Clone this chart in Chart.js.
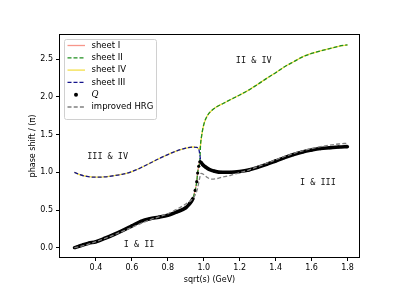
<!DOCTYPE html>
<html>
<head>
<meta charset="utf-8">
<script src="https://cdn.jsdelivr.net/npm/chart.js@4.4.1/dist/chart.umd.min.js"></script>
<style>
  html, body { margin: 0; padding: 0; background: #fff; }
  #wrap { width: 410px; height: 290px; }
</style>
</head>
<body>
<div id="wrap"><canvas id="phaseChart" width="410" height="290"></canvas></div>
<script>
// lower branch below threshold (I & II), also the Q points
const lowLeftX = [0.28, 0.30, 0.33, 0.36, 0.40, 0.45, 0.50, 0.55, 0.60, 0.65, 0.70, 0.75, 0.80, 0.85, 0.90, 0.92, 0.94, 0.952, 0.961, 0.966, 0.972, 0.978];
const lowLeftY = [0.00, 0.015, 0.04, 0.06, 0.08, 0.125, 0.175, 0.23, 0.29, 0.35, 0.385, 0.405, 0.43, 0.475, 0.53, 0.58, 0.655, 0.76, 0.875, 0.99, 1.08, 1.14];

// lower branch above threshold (I & III)
const lowRightX = [0.985, 0.995, 1.01, 1.03, 1.06, 1.10, 1.15, 1.20, 1.25, 1.30, 1.35, 1.40, 1.45, 1.50, 1.55, 1.60, 1.65, 1.70, 1.75, 1.80];
const lowRightY = [1.13, 1.10, 1.07, 1.04, 1.015, 1.0, 1.0, 1.01, 1.03, 1.065, 1.105, 1.15, 1.195, 1.235, 1.27, 1.295, 1.315, 1.325, 1.335, 1.34];

// upper branch below threshold (III & IV)
const upLeftX = [0.28, 0.31, 0.35, 0.40, 0.45, 0.50, 0.55, 0.60, 0.65, 0.70, 0.75, 0.80, 0.85, 0.90, 0.94, 0.96, 0.972];
const upLeftY = [1.00, 0.97, 0.945, 0.935, 0.94, 0.955, 0.975, 1.01, 1.06, 1.12, 1.18, 1.235, 1.285, 1.32, 1.335, 1.33, 1.31];

// upper branch above threshold (II & IV)
const upRightX = [0.982, 0.988, 0.995, 1.005, 1.02, 1.04, 1.07, 1.11, 1.15, 1.20, 1.25, 1.30, 1.35, 1.40, 1.45, 1.50, 1.55, 1.60, 1.65, 1.70, 1.75, 1.80];
const upRightY = [1.36, 1.48, 1.58, 1.67, 1.75, 1.81, 1.865, 1.915, 1.965, 2.025, 2.09, 2.165, 2.245, 2.32, 2.40, 2.465, 2.53, 2.575, 2.61, 2.64, 2.67, 2.69];

// improved HRG
const hrgX = [0.28, 0.35, 0.40, 0.50, 0.60, 0.70, 0.75, 0.80, 0.85, 0.90, 0.93, 0.95, 0.965, 0.975, 0.985, 1.00, 1.02, 1.04, 1.07, 1.10, 1.15, 1.20, 1.25, 1.30, 1.35, 1.40, 1.45, 1.50, 1.55, 1.60, 1.65, 1.70, 1.75, 1.80];
const hrgY = [0.00, 0.04, 0.08, 0.17, 0.27, 0.37, 0.41, 0.45, 0.51, 0.58, 0.63, 0.69, 0.78, 0.90, 0.985, 0.97, 0.93, 0.91, 0.915, 0.935, 0.96, 0.995, 1.03, 1.075, 1.12, 1.165, 1.21, 1.25, 1.285, 1.315, 1.34, 1.36, 1.375, 1.385];

const xTicks = [0.4, 0.6, 0.8, 1.0, 1.2, 1.4, 1.6, 1.8];
const yTicks = [0.0, 0.5, 1.0, 1.5, 2.0, 2.5];

const regionLabels = ["III & IV", "I & II", "II & IV", "I & III"];
const regionLabelX = [0.465, 0.64, 1.278, 1.635];
const regionLabelY = [1.21, 0.045, 2.48, 0.862];

const legendNames = ["sheet I", "sheet II", "sheet IV", "sheet III", "Q", "improved HRG"];

function pts(xs, ys) {
  return xs.map((x, i) => ({ x: x, y: ys[i] }));
}

const sheetI = pts(lowLeftX.concat(lowRightX), lowLeftY.concat(lowRightY));
const sheetII = pts(lowLeftX.concat(upRightX), lowLeftY.concat(upRightY));
const sheetIV = pts(upLeftX.concat(upRightX), upLeftY.concat(upRightY));
const sheetIII = pts(upLeftX.concat(lowRightX), upLeftY.concat(lowRightY));
const qPoints = pts(lowLeftX.concat(lowRightX), lowLeftY.concat(lowRightY));
const hrg = pts(hrgX, hrgY);

const baseLine = {
  showLine: true,
  pointRadius: 0,
  borderWidth: 1.3,
  cubicInterpolationMode: "monotone",
  fill: false,
};

// order: lower number drawn on top
const datasets = [
  { ...baseLine, label: legendNames[0], data: sheetI, borderColor: "#f7968a", order: 6 },
  { ...baseLine, label: legendNames[1], data: sheetII, borderColor: "#1f8f1f", borderDash: [4, 2], order: 4 },
  { ...baseLine, label: legendNames[2], data: sheetIV, borderColor: "#f3df4a", order: 5 },
  { ...baseLine, label: legendNames[3], data: sheetIII, borderColor: "#14148c", borderDash: [4, 2], order: 3 },
  {
    ...baseLine,
    label: legendNames[4],
    data: qPoints,
    borderColor: "#000",
    borderWidth: 3.6,
    pointRadius: 1.6,
    pointBackgroundColor: "#000",
    pointBorderWidth: 0,
    order: 2,
    segment: {
      // the steep part only shows separate dots
      borderColor: (c) => {
        const dx = c.p1.parsed.x - c.p0.parsed.x;
        const dy = c.p1.parsed.y - c.p0.parsed.y;
        return dy / dx > 6 ? "rgba(0,0,0,0)" : "#000";
      },
    },
  },
  { ...baseLine, label: legendNames[5], data: hrg, borderColor: "#808080", borderDash: [4, 2.2], order: 1 },
];

const tickFont = { family: "DejaVu Sans", size: 8 };

const framePlugin = {
  id: "framePlugin",
  afterDatasetsDraw(chart) {
    const ctx = chart.ctx;
    const sx = chart.scales.x;
    const sy = chart.scales.y;
    ctx.save();
    ctx.fillStyle = "#111";
    ctx.font = '8.5px "DejaVu Sans Mono"';
    ctx.textAlign = "center";
    ctx.textBaseline = "middle";
    regionLabels.forEach((t, i) => {
      ctx.fillText(t, sx.getPixelForValue(regionLabelX[i]), sy.getPixelForValue(regionLabelY[i]));
    });
    ctx.restore();
  },
  afterDraw(chart) {
    const ctx = chart.ctx;
    const a = chart.chartArea;
    ctx.save();
    ctx.strokeStyle = "#000";
    ctx.lineWidth = 1;
    ctx.strokeRect(Math.round(a.left) - 0.5, Math.round(a.top) - 0.5, Math.round(a.right - a.left) + 1, Math.round(a.bottom - a.top) + 1);

    // legend box
    const bx = 64, by = 39, bw = 92, bh = 80;
    ctx.fillStyle = "rgba(255,255,255,0.8)";
    ctx.strokeStyle = "#d0d0d0";
    ctx.lineWidth = 1;
    ctx.beginPath();
    ctx.roundRect(bx + 0.5, by + 0.5, bw, bh, 2);
    ctx.fill();
    ctx.stroke();

    const rowStart = 45.5, rowStep = 12.3;
    chart.data.datasets.forEach((ds, i) => {
      const y = rowStart + i * rowStep;
      if (i === 4) {
        ctx.fillStyle = "#000";
        ctx.beginPath();
        ctx.arc(76, y, 2, 0, Math.PI * 2);
        ctx.fill();
      } else {
        ctx.strokeStyle = ds.borderColor;
        ctx.lineWidth = 1.3;
        ctx.setLineDash(ds.borderDash || []);
        ctx.beginPath();
        ctx.moveTo(67.5, y);
        ctx.lineTo(85, y);
        ctx.stroke();
        ctx.setLineDash([]);
      }
      ctx.fillStyle = "#000";
      ctx.textAlign = "left";
      ctx.textBaseline = "middle";
      ctx.font = i === 4 ? 'italic 8.5px "DejaVu Serif"' : '8.5px "DejaVu Sans"';
      ctx.fillText(ds.label, 91.5, y);
    });
    ctx.restore();
  },
};

new Chart(document.getElementById("phaseChart").getContext("2d"), {
  type: "scatter",
  data: { datasets: datasets },
  options: {
    responsive: false,
    animation: false,
    devicePixelRatio: 1,
    layout: { padding: { left: 27, top: 35, right: 51, bottom: 0 } },
    plugins: {
      legend: { display: false },
      tooltip: { enabled: false },
    },
    scales: {
      x: {
        type: "linear",
        min: 0.2,
        max: 1.864,
        afterBuildTicks: (s) => {
          s.ticks = xTicks.map((v) => ({ value: v }));
        },
        afterFit: (s) => {
          s.height = 33;
        },
        ticks: {
          callback: (v) => Number(v).toFixed(1),
          font: tickFont,
          color: "#000",
          padding: 2,
          maxRotation: 0,
          autoSkip: false,
        },
        grid: { display: true, drawOnChartArea: false, drawTicks: true, tickLength: 4, color: "#000" },
        border: { display: false },
        title: {
          display: true,
          text: "sqrt(s) (GeV)",
          font: tickFont,
          color: "#000",
          padding: { top: 0, bottom: 5 },
        },
      },
      y: {
        type: "linear",
        min: -0.123,
        max: 2.82,
        afterBuildTicks: (s) => {
          s.ticks = yTicks.map((v) => ({ value: v }));
        },
        afterFit: (s) => {
          s.width = 33;
        },
        ticks: {
          callback: (v) => Number(v).toFixed(1),
          font: tickFont,
          color: "#000",
          padding: 3,
          autoSkip: false,
        },
        grid: { display: true, drawOnChartArea: false, drawTicks: true, tickLength: 4, color: "#000" },
        border: { display: false },
        title: {
          display: true,
          text: "phase shift / (π)",
          font: tickFont,
          color: "#000",
          padding: { top: 1, bottom: 0 },
        },
      },
    },
  },
  plugins: [framePlugin],
});
</script>
</body>
</html>
